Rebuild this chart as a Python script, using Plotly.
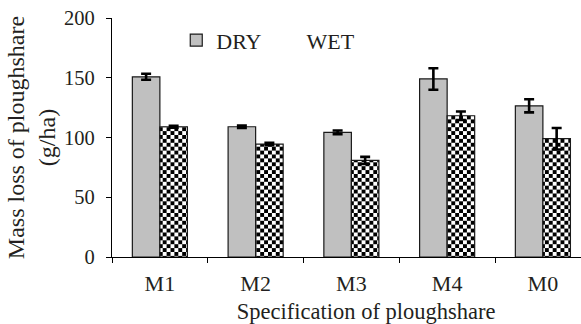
import plotly.graph_objects as go

categories = ["M1", "M2", "M3", "M4", "M0"]
dry_values = [150.8, 109, 104.3, 149, 126.5]
wet_values = [109, 94.5, 80.8, 118.2, 99]
dry_errors = [2.5, 1, 1.5, 9, 5.5]
wet_errors = [0.8, 1, 3, 3.5, 9]
y_ticks = [0, 50, 100, 150, 200]

FONT = "Liberation Serif"
TXT = "#231f20"

fig = go.Figure()
fig.add_trace(go.Bar(
    name="DRY", x=categories, y=dry_values,
    marker=dict(color="#c0c0c0", line=dict(color="#1a1a1a", width=1.2)),
    error_y=dict(type="data", array=dry_errors, color="#000000", thickness=2.6, width=5),
))
fig.add_trace(go.Bar(
    name="WET", x=categories, y=wet_values, showlegend=False,
    marker=dict(color="#ffffff", line=dict(color="#1a1a1a", width=1.2),
                pattern=dict(shape=".", fgcolor="#000000", bgcolor="#ffffff", size=5, solidity=0.5)),
    error_y=dict(type="data", array=wet_errors, color="#000000", thickness=2.6, width=5),
))
# legend entry for WET (drawn without a visible swatch, as in the reference)
fig.add_trace(go.Scatter(
    name="WET", x=[None], y=[None], mode="markers",
    marker=dict(color="rgba(0,0,0,0)", size=1),
))

fig.update_layout(
    width=581, height=324,
    margin=dict(l=112, r=0, t=18, b=67, pad=0),
    paper_bgcolor="white", plot_bgcolor="white",
    barmode="group", bargap=0.425, bargroupgap=0,
    font=dict(family=FONT, size=22, color=TXT),
    showlegend=True,
    legend=dict(orientation="h", x=0.137, y=0.907, xanchor="left", yanchor="middle",
                bgcolor="rgba(0,0,0,0)", font=dict(family=FONT, size=22, color=TXT),
                itemwidth=30, tracegroupgap=0),
    xaxis=dict(
        range=[-0.5, 4.398], showline=True, linecolor="#000000", linewidth=1.2,
        ticks="outside", tickson="boundaries", ticklen=5, tickcolor="#000000", tickwidth=1.2,
        ticklabelstandoff=6, showgrid=False, zeroline=False,
        tickfont=dict(family=FONT, size=22, color=TXT),
        title=dict(text="\u200b" + "\u00a0" * 7 + "Specification of ploughshare",
                   font=dict(family=FONT, size=22.5, color=TXT), standoff=8),
    ),
    yaxis=dict(
        range=[0, 200], tickvals=y_ticks, showline=True, linecolor="#000000", linewidth=1.2,
        ticks="outside", ticklen=5, tickcolor="#000000", tickwidth=1.2,
        ticklabelstandoff=7, showgrid=False, zeroline=False,
        tickfont=dict(family=FONT, size=20.5, color=TXT),
        title=dict(text="Mass loss of ploughshare<br>(g/ha)", font=dict(family=FONT, size=24, color=TXT), standoff=1),
    ),
)

post = """
document.body.style.margin = '0';
document.body.style.overflow = 'hidden';
var gd = document.getElementById('{plot_id}');
var NS = 'http://www.w3.org/2000/svg';
function checker(){
  gd.querySelectorAll('pattern').forEach(function(p){
    if (p.getAttribute('data-checker')) return;
    var a = 3.9;
    p.setAttribute('width', 2*a); p.setAttribute('height', 2*a);
    p.removeAttribute('patternTransform');
    while (p.firstChild) p.removeChild(p.firstChild);
    [[0,0,2*a,2*a,'#ffffff'],[0,0,a,a,'#000000'],[a,a,a,a,'#000000']].forEach(function(r){
      var e = document.createElementNS(NS, 'rect');
      e.setAttribute('x', r[0]); e.setAttribute('y', r[1]);
      e.setAttribute('width', r[2]); e.setAttribute('height', r[3]);
      e.setAttribute('fill', r[4]);
      p.appendChild(e);
    });
    p.setAttribute('data-checker', '1');
  });
}
checker();
gd.on('plotly_afterplot', checker);
"""

fig.write_html("out.html", post_script=post, config={"displayModeBar": False})
